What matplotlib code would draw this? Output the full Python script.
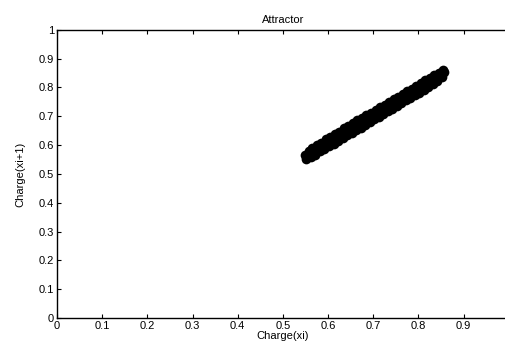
import matplotlib
matplotlib.use("Agg")
import matplotlib.pyplot as plt

# Centre line of the attractor cloud
x_centre = [0.55, 0.56, 0.57, 0.58, 0.59, 0.60, 0.61, 0.62, 0.63, 0.64, 0.65,
            0.66, 0.67, 0.68, 0.69, 0.70, 0.71, 0.72, 0.73, 0.74, 0.75, 0.76,
            0.77, 0.78, 0.79, 0.80, 0.81, 0.82, 0.83, 0.84, 0.85, 0.857]
y_centre = [0.565, 0.574, 0.584, 0.593, 0.602, 0.612, 0.621, 0.630, 0.640, 0.649, 0.659,
            0.668, 0.677, 0.687, 0.696, 0.705, 0.715, 0.724, 0.733, 0.743, 0.752, 0.761,
            0.771, 0.780, 0.789, 0.799, 0.808, 0.817, 0.827, 0.836, 0.846, 0.855]
# Upper edge of the cloud
x_upper = [0.558, 0.565, 0.575, 0.585, 0.595, 0.605, 0.615, 0.625, 0.635, 0.645, 0.655,
           0.665, 0.675, 0.685, 0.695, 0.705, 0.715, 0.725, 0.735, 0.745, 0.755, 0.765,
           0.775, 0.785, 0.795, 0.805, 0.815, 0.825, 0.835, 0.845, 0.855]
y_upper = [0.580, 0.590, 0.602, 0.609, 0.621, 0.629, 0.640, 0.647, 0.659, 0.666, 0.678,
           0.687, 0.693, 0.705, 0.712, 0.723, 0.732, 0.739, 0.751, 0.759, 0.768, 0.779,
           0.787, 0.796, 0.806, 0.814, 0.825, 0.832, 0.842, 0.851, 0.860]
# Lower edge of the cloud
x_lower = [0.552, 0.562, 0.572, 0.582, 0.592, 0.602, 0.612, 0.622, 0.632, 0.642, 0.652,
           0.662, 0.672, 0.682, 0.692, 0.702, 0.712, 0.722, 0.732, 0.742, 0.752, 0.762,
           0.772, 0.782, 0.792, 0.802, 0.812, 0.822, 0.832, 0.842, 0.851]
y_lower = [0.553, 0.558, 0.567, 0.578, 0.585, 0.597, 0.604, 0.615, 0.623, 0.634, 0.641,
           0.653, 0.660, 0.671, 0.680, 0.689, 0.699, 0.707, 0.718, 0.726, 0.736, 0.745,
           0.755, 0.763, 0.774, 0.782, 0.793, 0.800, 0.811, 0.821, 0.835]

x_ticks = [0, 0.1, 0.2, 0.3, 0.4, 0.5, 0.6, 0.7, 0.8, 0.9]
y_ticks = [0, 0.1, 0.2, 0.3, 0.4, 0.5, 0.6, 0.7, 0.8, 0.9, 1]

plt.rcParams['font.family'] = ['Liberation Sans', 'DejaVu Sans']

fig = plt.figure(figsize=(5.06, 3.43), dpi=100)
ax = fig.add_axes([0.1126, 0.0729, 0.893, 0.840])

for xs, ys in [(x_centre, y_centre), (x_upper, y_upper), (x_lower, y_lower)]:
    ax.plot(xs, ys, linestyle='none', marker='o', markersize=7,
            color='black', markeredgewidth=0)

ax.set_xlim(0, 1)
ax.set_ylim(0, 1)
ax.set_xticks(x_ticks)
ax.set_yticks(y_ticks)
ax.set_xticklabels([f"{v:g}" for v in x_ticks])
ax.set_yticklabels([f"{v:g}" for v in y_ticks])
ax.tick_params(direction='in', length=3, width=0.8, labelsize=8,
               top=True, right=True, pad=2)
for s in ax.spines.values():
    s.set_linewidth(1.0)

ax.set_title("Attractor", fontsize=8, pad=5)
ax.set_xlabel("Charge(xi)", fontsize=8, labelpad=0)
ax.set_ylabel("Charge(xi+1)", fontsize=8, labelpad=10)

fig.savefig("out.png", dpi=100)
